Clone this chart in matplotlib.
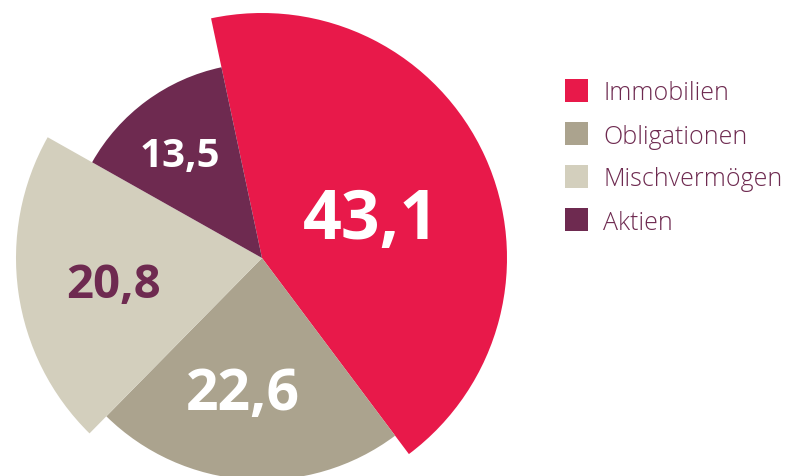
import numpy as np
import matplotlib
matplotlib.use("Agg")
import matplotlib.pyplot as plt
from matplotlib.patches import Wedge, Rectangle

# Daten
labels = ["Immobilien", "Obligationen", "Mischvermögen", "Aktien"]
values = [43.1, 22.6, 20.8, 13.5]
value_texts = ["43,1", "22,6", "20,8", "13,5"]

colors = ["#E8194A", "#ABA38E", "#D3CFBD", "#6E2A50"]
text_colors = ["white", "white", "#6E2A50", "white"]
radii = [245, 222, 246, 195]          # Radius je Segment (Pixel)
label_pos = [0.48, 0.59, 0.61, 0.69]  # Position der Werte (Anteil vom Radius)
label_turn = [-1.8, -4.5, 0.3, 1.5]   # kleine Winkelkorrektur der Werte
label_sizes = [49, 41, 34, 29]
legend_color = "#6E2A50"

plt.rcParams['font.family'] = ['Open Sans', 'DejaVu Sans']

fig = plt.figure(figsize=(7.87, 4.76), dpi=100)
ax = fig.add_axes([0, 0, 1, 1])
ax.set_xlim(0, 787)
ax.set_ylim(476, 0)
ax.set_aspect('equal')
ax.axis('off')

cx, cy = 262, 258
start = 102.0
for i, v in enumerate(values):
    span = v / sum(values) * 360
    # im Uhrzeigersinn, y-Achse nach unten -> Winkel spiegeln
    t1, t2 = start - span, start
    w = Wedge((cx, cy), radii[i], -t2, -t1, facecolor=colors[i], edgecolor='none')
    ax.add_patch(w)
    mid = np.deg2rad((t1 + t2) / 2 + label_turn[i])
    r = radii[i] * label_pos[i]
    ax.text(cx + r * np.cos(mid), cy - r * np.sin(mid) + 0.17 * label_sizes[i], value_texts[i],
            color=text_colors[i], fontsize=label_sizes[i], fontweight='bold',
            ha='center', va='center')
    start = t1

# Legende
for i, lab in enumerate(labels):
    y = 90 + i * 43
    ax.add_patch(Rectangle((565, y - 11.5), 23, 23, facecolor=colors[i], edgecolor='none'))
    ax.text(603, y + 4, lab, color=legend_color, fontsize=18, fontweight='light',
            ha='left', va='center')

fig.savefig("out.png", dpi=100)
